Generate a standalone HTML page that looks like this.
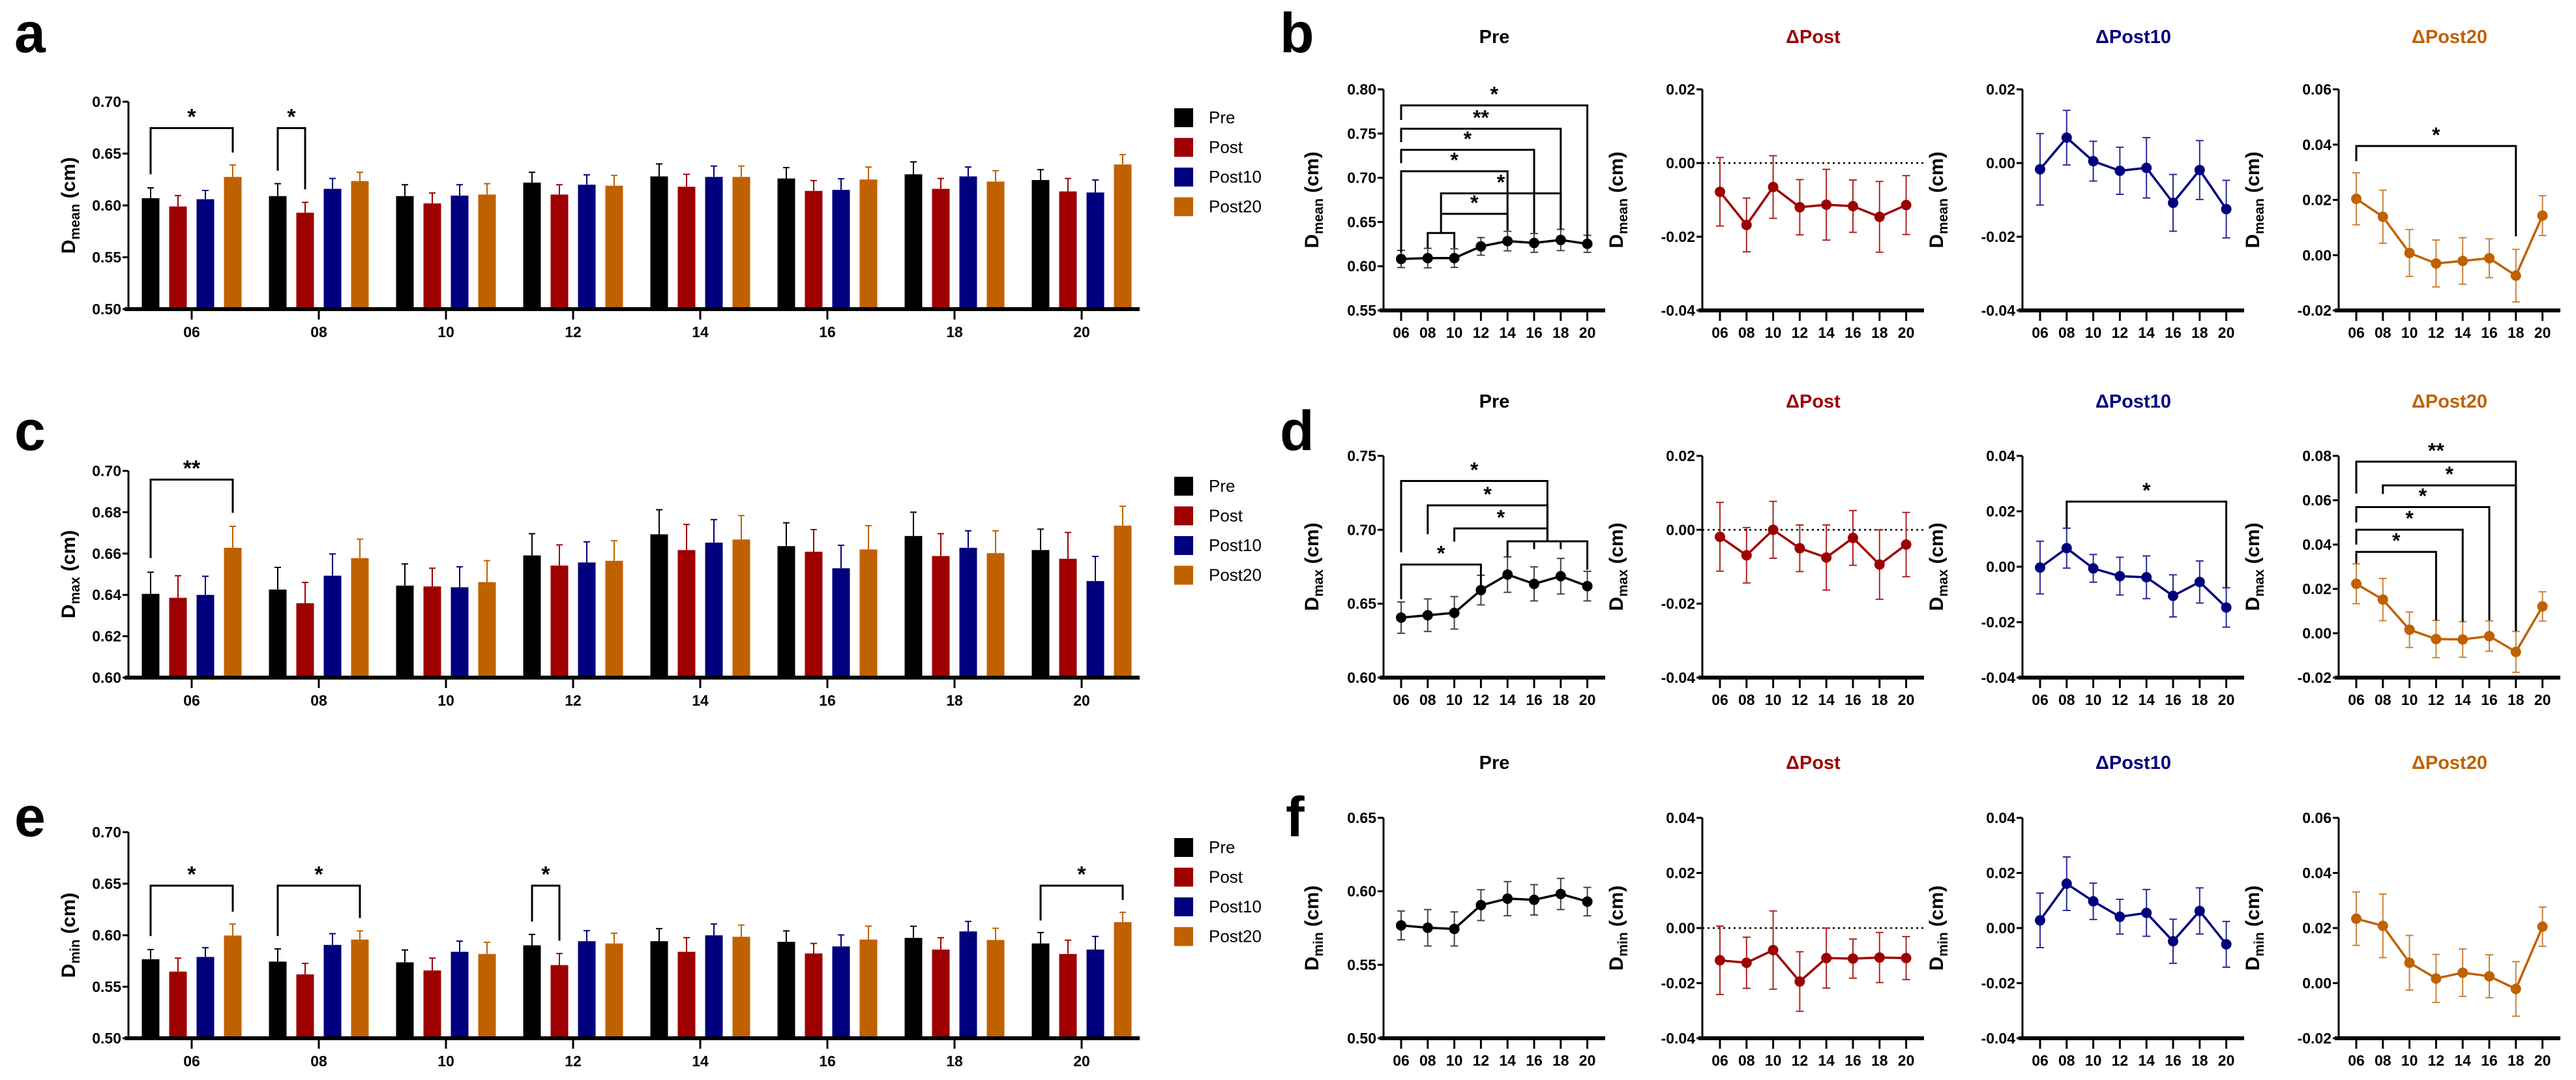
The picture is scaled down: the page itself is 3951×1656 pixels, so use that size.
<!DOCTYPE html>
<html><head><meta charset="utf-8"><style>
html,body{margin:0;padding:0;background:#fff;}
svg{display:block;font-family:"Liberation Sans",Arial,sans-serif;}
</style></head><body>
<svg id="fig" width="3951" height="1656" viewBox="0 0 3951 1656" xmlns="http://www.w3.org/2000/svg">
<rect width="3951" height="1656" fill="#fff"/>
</svg>
<script>
// ---------- shared categories ----------
const groups = ['06','08','10','12','14','16','18','20'];
const seriesNames = ['Pre','Post','Post10','Post20'];
const seriesColors = ['#000000','#9e0000','#00007e','#c06100'];

// ---------- panel a (D mean) ----------
const a_pre    = [0.607,0.609,0.609,0.622,0.628,0.626,0.630,0.6245];
const a_post   = [0.599,0.593,0.602,0.6105,0.618,0.614,0.616,0.6135];
const a_post10 = [0.606,0.616,0.6095,0.620,0.6275,0.615,0.628,0.6125];
const a_post20 = [0.6275,0.6235,0.6105,0.619,0.6275,0.625,0.623,0.6395];
const a_err_pre    = [0.010,0.012,0.011,0.010,0.012,0.0105,0.012,0.010];
const a_err_post   = [0.0105,0.010,0.010,0.0095,0.012,0.010,0.010,0.0125];
const a_err_post10 = [0.0085,0.010,0.0105,0.0095,0.0105,0.0107,0.009,0.012];
const a_err_post20 = [0.0115,0.0085,0.0105,0.010,0.0105,0.012,0.0105,0.0095];
const a_ticks = [0.50,0.55,0.60,0.65,0.70];
const a_sig = [[0,0,3,0,0.6746,0.630,0.651,'*'],[0,1,1,1,0.6746,0.6335,0.6155,'*']];

// ---------- panel c (D max) ----------
const c_pre    = [0.6405,0.6426,0.6445,0.6591,0.6693,0.6636,0.6685,0.6617];
const c_post   = [0.6386,0.636,0.6441,0.6542,0.6617,0.6609,0.6588,0.6575];
const c_post10 = [0.640,0.6493,0.6437,0.6557,0.6653,0.6529,0.6628,0.6467];
const c_post20 = [0.6628,0.6578,0.6462,0.6565,0.6668,0.662,0.6602,0.6735];
const c_err_pre    = [0.0105,0.0107,0.0105,0.0105,0.0119,0.0113,0.0115,0.0101];
const c_err_post   = [0.0107,0.010,0.0088,0.010,0.0124,0.0107,0.0108,0.0127];
const c_err_post10 = [0.009,0.0105,0.0099,0.010,0.0111,0.0111,0.0082,0.0119];
const c_err_post20 = [0.0104,0.0092,0.0104,0.0097,0.0116,0.0115,0.0108,0.0094];
const c_ticks = [0.60,0.62,0.64,0.66,0.68,0.70];
const c_sig = [[0,0,3,0,0.6958,0.6578,0.6797,'**']];

// ---------- panel e (D min) ----------
const e_pre    = [0.5767,0.5744,0.5737,0.5902,0.5942,0.5936,0.5974,0.592];
const e_post   = [0.5647,0.562,0.5658,0.571,0.5839,0.5823,0.5861,0.5818];
const e_post10 = [0.5789,0.5906,0.5839,0.5942,0.5999,0.5891,0.6037,0.5861];
const e_post20 = [0.5997,0.5958,0.5818,0.592,0.5985,0.5958,0.5954,0.6127];
const e_err_pre    = [0.0094,0.0124,0.012,0.0106,0.0122,0.0106,0.0113,0.0106];
const e_err_post   = [0.0131,0.0106,0.012,0.0113,0.0137,0.0097,0.0115,0.0134];
const e_err_post10 = [0.009,0.0109,0.0103,0.0102,0.011,0.0112,0.0097,0.0127];
const e_err_post20 = [0.0112,0.0084,0.0113,0.0099,0.0113,0.0131,0.0113,0.0095];
const e_ticks = [0.50,0.55,0.60,0.65,0.70];
const e_sig = [[0,0,3,0,0.6481,0.5992,0.6229,'*'],[0,1,3,1,0.6481,0.5992,0.6166,'*'],[0,3,1,3,0.6481,0.6132,0.5947,'*'],[0,7,3,7,0.6481,0.6143,0.6342,'*']];

// ---------- line panels b ----------
const b_pre = [0.6082,0.6092,0.6092,0.6224,0.6284,0.6263,0.6297,0.6253];
const b_pre_err = [0.0097,0.011,0.0105,0.010,0.011,0.0106,0.012,0.0097];
const b_dpost = [-0.0078,-0.0168,-0.0065,-0.012,-0.0113,-0.0117,-0.0146,-0.0114];
const b_dpost_err = [0.0093,0.0073,0.0085,0.0075,0.0096,0.0071,0.0096,0.008];
const b_dpost10 = [-0.0017,0.0069,0.0005,-0.0021,-0.0013,-0.0108,-0.0019,-0.0125];
const b_dpost10_err = [0.0097,0.0074,0.0054,0.0064,0.0082,0.0077,0.008,0.0078];
const b_dpost20 = [0.0204,0.0139,0.0008,-0.003,-0.0021,-0.0011,-0.0074,0.0143];
const b_dpost20_err = [0.0094,0.0096,0.0085,0.0085,0.0084,0.007,0.0095,0.0072];
const b_pre_sig = [[0,7,0.7818,0.7653,0.6305,'*'],[0,6,0.7555,0.7403,0.6416,'**'],[0,5,0.7316,0.7165,0.6376,'*'],[0,4,0.7074,0.6153,0.6403,'*'],[1.5,6,0.6824,0.6592,0.6416,'*'],[1.5,4,0.6592,0.6376,0.6403,'*'],[1,2,0.6376,0.6205,0.6205,'']];
const b_dpost20_sig = [[0,6,0.0395,0.034,0.0068,'*']];

// ---------- line panels d ----------
const d_pre = [0.6406,0.6422,0.6438,0.6592,0.6697,0.6634,0.6686,0.6619];
const d_pre_err = [0.0106,0.011,0.011,0.010,0.012,0.0115,0.012,0.010];
const d_dpost = [-0.0019,-0.0069,0.0,-0.005,-0.0075,-0.0022,-0.0094,-0.004];
const d_dpost_err = [0.0093,0.0075,0.0077,0.0063,0.0088,0.0074,0.0094,0.0087];
const d_dpost10 = [-0.0003,0.0067,-0.0006,-0.0034,-0.0038,-0.0105,-0.0055,-0.0147];
const d_dpost10_err = [0.0095,0.0072,0.005,0.0068,0.0077,0.0076,0.0076,0.0071];
const d_dpost20 = [0.0223,0.0152,0.0016,-0.0026,-0.0028,-0.0013,-0.0084,0.0121];
const d_dpost20_err = [0.009,0.0095,0.008,0.0084,0.008,0.0068,0.0092,0.0066];
const d_pre_sig = [[0,5.5,0.733,0.6847,0.6922,'*'],[1,5.5,0.7165,0.697,0.6922,'*'],[2,5.5,0.7009,0.692,0.6922,'*'],[0,3,0.6765,0.653,0.6627,'*'],[4,7,0.6922,0.6815,0.673,'',[5,6]]];
const d_dpost10_sig = [[1,7,0.0235,0.0139,-0.0076,'*']];
const d_dpost20_sig = [[0,6,0.0774,0.063,0.001,'**'],[1,6,0.0667,0.0628,0.001,'*'],[0,5,0.0569,0.05,0.0058,'*'],[0,4,0.0467,0.04,0.0052,'*'],[0,3,0.0367,0.0315,0.0058,'*']];

// ---------- line panels f ----------
const f_pre = [0.5768,0.5752,0.5744,0.5906,0.595,0.5942,0.5982,0.593];
const f_pre_err = [0.0098,0.0124,0.0116,0.0105,0.0116,0.0103,0.0106,0.0097];
const f_dpost = [-0.0117,-0.0126,-0.008,-0.0194,-0.0109,-0.0111,-0.0107,-0.0109];
const f_dpost_err = [0.0124,0.0093,0.0142,0.0108,0.0109,0.0071,0.0091,0.0078];
const f_dpost10 = [0.0028,0.0161,0.0097,0.0041,0.0055,-0.0048,0.0062,-0.0059];
const f_dpost10_err = [0.0099,0.0097,0.0066,0.0063,0.0085,0.008,0.0084,0.0083];
const f_dpost20 = [0.0234,0.0208,0.0074,0.0017,0.0038,0.0025,-0.0021,0.0205];
const f_dpost20_err = [0.0097,0.0115,0.0099,0.0087,0.0086,0.0078,0.0099,0.0071];

const NS='http://www.w3.org/2000/svg';
const svg=document.getElementById('fig');
function mk(tag,attrs,parent){const e=document.createElementNS(NS,tag);for(const k in attrs)e.setAttribute(k,attrs[k]);(parent||svg).appendChild(e);return e;}
function txt(s,attrs,parent){const t=mk('text',attrs,parent);t.textContent=s;return t;}
function ytitle(g,x,y,sub){
  const t=mk('text',{x:0,y:0,transform:`translate(${x},${y}) rotate(-90)`,'text-anchor':'middle','font-size':30,'font-weight':'bold'},g);
  
  
  const s1=mk('tspan',{},t);s1.textContent='D';
  const s2=mk('tspan',{'font-size':21,dy:7},t);s2.textContent=sub;
  const s3=mk('tspan',{dy:-7},t);s3.textContent=' (cm)';
}
function letter(ch,x,y){
  const t=txt(ch,{x:x,y:y,'font-size':86,'font-weight':'bold'});
  
  
}

// ---------- bar chart ----------
function barChart(id,top,bot,ymin,ymax,ticks,means,errs,sig,sub,legendY){
  const g=mk('g',{});
  
  
  const ax=197, x0=294, gs=195, bw=27, off=42, axEnd=1748;
  const Y=v=>bot-(v-ymin)/(ymax-ymin)*(bot-top);
  const GX=(gi,si)=>x0+gi*gs+(si-1.5)*off;
  // bars
  for(let s=0;s<4;s++){
    for(let i=0;i<groups.length;i++){
      const cx=GX(i,s), yv=Y(means[s][i]), ye=Y(means[s][i]+errs[s][i]);
      const r=mk('rect',{x:cx-bw/2,y:yv,width:bw,height:bot-yv,fill:seriesColors[s]},g);
      
      
      const eb=mk('path',{d:`M${cx},${yv}V${ye}M${cx-5},${ye}H${cx+5}`,stroke:seriesColors[s],'stroke-width':2,fill:'none'},g);
      
      
    }
  }
  // axes
  const ya=mk('line',{x1:ax,y1:top,x2:ax,y2:bot+2,stroke:'#000','stroke-width':3},g);
  
  
  const xa=mk('line',{x1:ax-6,y1:bot,x2:axEnd,y2:bot,stroke:'#000','stroke-width':6},g);
  
  
  ticks.forEach(v=>{
    mk('line',{x1:ax-9,y1:Y(v),x2:ax,y2:Y(v),stroke:'#000','stroke-width':3},g);
    const t=txt(v.toFixed(2),{x:ax-11,y:Y(v)+8,'text-anchor':'end','font-size':23,'font-weight':'bold'},g);
    
    
  });
  groups.forEach((c,i)=>{
    const cx=x0+i*gs;
    mk('line',{x1:cx,y1:bot,x2:cx,y2:bot+16,stroke:'#000','stroke-width':3},g);
    const t=txt(c,{x:cx,y:bot+43,'text-anchor':'middle','font-size':23,'font-weight':'bold'},g);
    
    
  });
  ytitle(g,115,(top+bot)/2,sub);
  // significance
  sig.forEach(b=>{
    const xl=GX(b[1],b[0]), xr=GX(b[3],b[2]), yt=Y(b[4]);
    const p=mk('path',{d:`M${xl},${Y(b[5])}V${yt}H${xr}V${Y(b[6])}`,stroke:'#000','stroke-width':3,fill:'none'},g);
    
    
    const t=txt(b[7],{x:(xl+xr)/2,y:yt-6,'text-anchor':'middle','font-size':34,'font-weight':'bold'},g);
    
    
  });
  // legend
  seriesNames.forEach((n,s)=>{
    const yy=legendY+s*45.5;
    const r=mk('rect',{x:1801,y:yy-14,width:29,height:29,fill:seriesColors[s]},g);
    
    
    const t=txt(n,{x:1854,y:yy+9,'font-size':26},g);
    
    
  });
}

// ---------- line chart ----------
function lineChart(id,ax,top,bot,ymin,ymax,step,vals,errs,color,title,titleY,sub,sig,dotted,errColor){
  const g=mk('g',{});
  
  
  const x0=ax+27, sp=40.8, axEnd=ax+340;
  const Y=v=>bot-(v-ymin)/(ymax-ymin)*(bot-top);
  const X=i=>x0+i*sp;
  const ya=mk('line',{x1:ax,y1:top,x2:ax,y2:bot+2,stroke:'#000','stroke-width':3},g);
  
  
  const xa=mk('line',{x1:ax-6,y1:bot,x2:axEnd,y2:bot,stroke:'#000','stroke-width':6},g);
  
  
  const n=Math.round((ymax-ymin)/step);
  for(let k=0;k<=n;k++){
    const v=ymin+k*step, yy=Y(v);
    mk('line',{x1:ax-9,y1:yy,x2:ax,y2:yy,stroke:'#000','stroke-width':3},g);
    const t=txt((Math.abs(v)<1e-9?0:v).toFixed(2),{x:ax-11,y:yy+8,'text-anchor':'end','font-size':23,'font-weight':'bold'},g);
    
    
  }
  groups.forEach((c,i)=>{
    mk('line',{x1:X(i),y1:bot,x2:X(i),y2:bot+16,stroke:'#000','stroke-width':3},g);
    const t=txt(c,{x:X(i),y:bot+42,'text-anchor':'middle','font-size':23,'font-weight':'bold'},g);
    
    
  });
  if(dotted){
    const d=mk('line',{x1:ax,y1:Y(0),x2:axEnd,y2:Y(0),stroke:'#000','stroke-width':2.5,'stroke-dasharray':'3,5'},g);
    
    
  }
  const tt=txt(title,{x:ax+170,y:titleY,'text-anchor':'middle','font-size':29,'font-weight':'bold',fill:color},g);
  
  
  ytitle(g,ax-(ymin<0?122:100),(top+bot)/2,sub);
  vals.forEach((v,i)=>{
    const yl=Y(v-errs[i]), yh=Y(v+errs[i]);
    const eb=mk('path',{d:`M${X(i)},${yl}V${yh}M${X(i)-6},${yh}H${X(i)+6}M${X(i)-6},${yl}H${X(i)+6}`,stroke:errColor,'stroke-width':2,fill:'none'},g);
    
    
  });
  const ln=mk('polyline',{points:vals.map((v,i)=>X(i)+','+Y(v)).join(' '),stroke:color,'stroke-width':3.5,fill:'none'},g);
  
  
  vals.forEach((v,i)=>{
    const c=mk('circle',{cx:X(i),cy:Y(v),r:8,fill:color},g);
    
    
  });
  (sig||[]).forEach(b=>{
    const xl=X(b[0]), xr=X(b[1]), yt=Y(b[2]);
    const p=mk('path',{d:`M${xl},${Y(b[3])}V${yt}H${xr}V${Y(b[4])}`,stroke:'#000','stroke-width':3,fill:'none'},g);
    
    
    (b[6]||[]).forEach(m=>{mk('line',{x1:X(m),y1:yt,x2:X(m),y2:yt+12,stroke:'#000','stroke-width':3},g);});
    if(b[5]){
      const t=txt(b[5],{x:(xl+xr)/2,y:yt-6,'text-anchor':'middle','font-size':32,'font-weight':'bold'},g);
      
      
    }
  });
}

letter('a',22,80);letter('b',1963,80);
letter('c',22,690);letter('d',1963,690);
letter('e',22,1282);letter('f',1972,1282);

barChart('a',156,474,0.50,0.70,a_ticks,[a_pre,a_post,a_post10,a_post20],[a_err_pre,a_err_post,a_err_post10,a_err_post20],a_sig,'mean',180);
barChart('c',722,1039,0.60,0.70,c_ticks,[c_pre,c_post,c_post10,c_post20],[c_err_pre,c_err_post,c_err_post10,c_err_post20],c_sig,'max',745);
barChart('e',1276,1592,0.50,0.70,e_ticks,[e_pre,e_post,e_post10,e_post20],[e_err_pre,e_err_post,e_err_post10,e_err_post20],e_sig,'min',1299);

const AX=[2122,2611,3102,3587];
const C=['#000000','#9e0000','#00007e','#c06100'];
const EC=['#444444','#b22222','#2a2a9a','#c8823a'];
const T=['Pre','\u0394Post','\u0394Post10','\u0394Post20'];
// row b
lineChart('b-pre',AX[0],137,476,0.55,0.80,0.05,b_pre,b_pre_err,C[0],T[0],66,'mean',b_pre_sig,false,EC[0]);
lineChart('b-dpost',AX[1],137,476,-0.04,0.02,0.02,b_dpost,b_dpost_err,C[1],T[1],66,'mean',null,true,EC[1]);
lineChart('b-dpost10',AX[2],137,476,-0.04,0.02,0.02,b_dpost10,b_dpost10_err,C[2],T[2],66,'mean',null,false,EC[2]);
lineChart('b-dpost20',AX[3],137,476,-0.02,0.06,0.02,b_dpost20,b_dpost20_err,C[3],T[3],66,'mean',b_dpost20_sig,false,EC[3]);
// row d
lineChart('d-pre',AX[0],699,1039,0.60,0.75,0.05,d_pre,d_pre_err,C[0],T[0],625,'max',d_pre_sig,false,EC[0]);
lineChart('d-dpost',AX[1],699,1039,-0.04,0.02,0.02,d_dpost,d_dpost_err,C[1],T[1],625,'max',null,true,EC[1]);
lineChart('d-dpost10',AX[2],699,1039,-0.04,0.04,0.02,d_dpost10,d_dpost10_err,C[2],T[2],625,'max',d_dpost10_sig,false,EC[2]);
lineChart('d-dpost20',AX[3],699,1039,-0.02,0.08,0.02,d_dpost20,d_dpost20_err,C[3],T[3],625,'max',d_dpost20_sig,false,EC[3]);
// row f
lineChart('f-pre',AX[0],1254,1592,0.50,0.65,0.05,f_pre,f_pre_err,C[0],T[0],1179,'min',null,false,EC[0]);
lineChart('f-dpost',AX[1],1254,1592,-0.04,0.04,0.02,f_dpost,f_dpost_err,C[1],T[1],1179,'min',null,true,EC[1]);
lineChart('f-dpost10',AX[2],1254,1592,-0.04,0.04,0.02,f_dpost10,f_dpost10_err,C[2],T[2],1179,'min',null,false,EC[2]);
lineChart('f-dpost20',AX[3],1254,1592,-0.02,0.06,0.02,f_dpost20,f_dpost20_err,C[3],T[3],1179,'min',null,false,EC[3]);
</script>
</body></html>
